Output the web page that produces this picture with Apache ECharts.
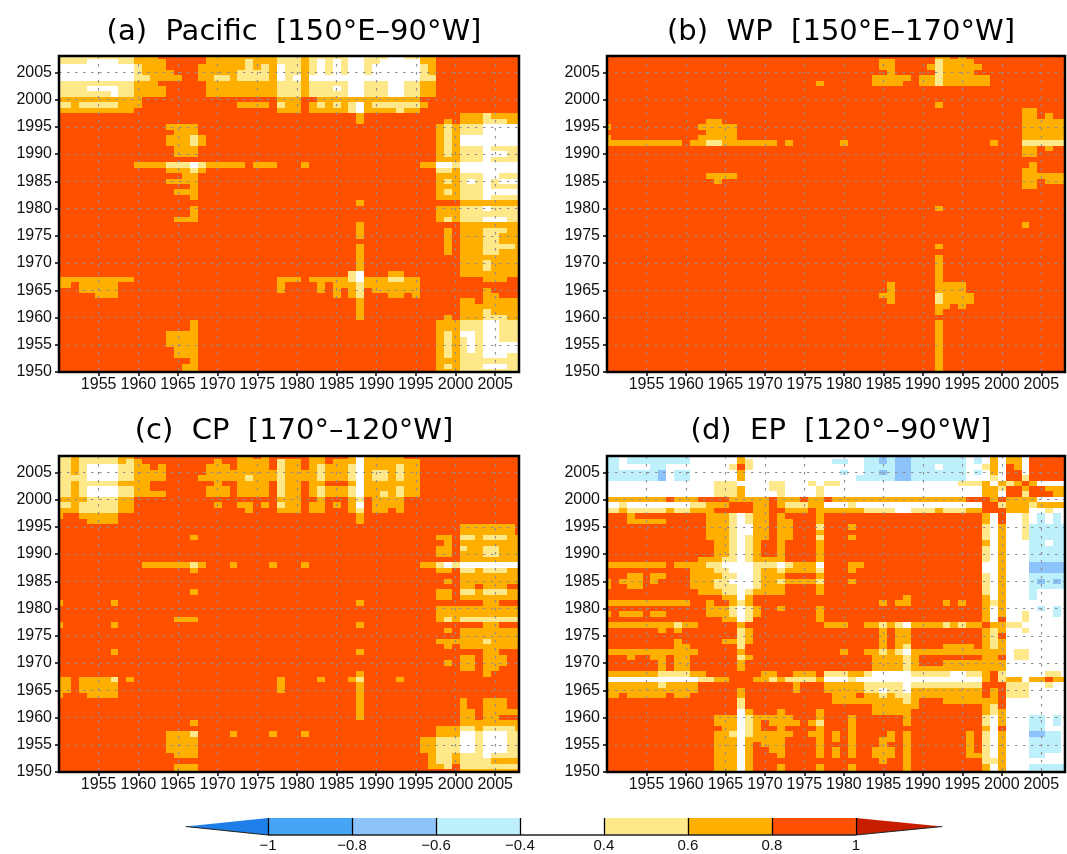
<!DOCTYPE html>
<html><head><meta charset="utf-8">
<style>html,body{margin:0;padding:0;background:#fff}#c{width:1067px;height:854px}</style>
<script src="https://cdn.jsdelivr.net/npm/echarts@6/dist/echarts.min.js"></script>
</head><body><div id="c"></div>
<script>
const titles = ['(a)  Pacific  [150°E–90°W]', '(b)  WP  [150°E–170°W]', '(c)  CP  [170°–120°W]', '(d)  EP  [120°–90°W]'];
const xTickYears = [1955,1960,1965,1970,1975,1980,1985,1990,1995,2000,2005];
const yTickYears = [1950,1955,1960,1965,1970,1975,1980,1985,1990,1995,2000,2005];
const barLevels = [-1,-0.8,-0.6,-0.4,0.4,0.6,0.8,1];
const barLabels = ['−1','−0.8','−0.6','−0.4','0.4','0.6','0.8','1'];
const barColors = ['#1f7fe8','#46a5f5','#8cc3fa','#bdf0fb','#ffffff','#fee88a','#ffaf00','#ff5000','#c81e00'];
const classValues = {M:-0.7, L:-0.5, W:0, Y:0.5, O:0.7, R:0.9};
// Each region: [year from, year to, lag-year from, lag-year to, class]; later regions overlay earlier ones.
const regionsA = [
[1950,1959,2001,2008,'Y'],[1954,1957,2007,2007,'W'],[1952,1959,2004,2006,'W'],[1950,1951,2004,2006,'W'],[1954,1957,2002,2002,'W'],[1957,1957,2001,2001,'W'],
[1960,1962,2008,2008,'O'],[1960,1963,2006,2007,'O'],[1960,1964,2005,2005,'O'],[1960,1965,2004,2004,'O'],[1960,1962,2003,2003,'O'],[1960,1963,2001,2002,'O'],[1960,1961,2004,2004,'Y'],[1960,1960,2005,2006,'Y'],
[1969,1977,2001,2008,'O'],[1968,1968,2004,2006,'O'],[1974,1974,2006,2007,'Y'],[1973,1976,2004,2005,'Y'],[1976,1976,2006,2006,'Y'],[1970,1971,2004,2004,'Y'],
[1978,1980,2001,2008,'Y'],[1978,1978,2004,2006,'W'],[1980,1980,2004,2004,'W'],[1981,1981,2001,2008,'O'],
[1982,1995,2001,2008,'Y'],[1982,1995,2004,2004,'W'],[1983,1983,2005,2007,'W'],[1985,1985,2005,2007,'W'],[1985,1985,2002,2002,'W'],[1987,1988,2001,2008,'W'],[1990,1995,2005,2006,'W'],[1991,1995,2007,2007,'W'],[1992,1993,2008,2008,'W'],[1992,1993,2001,2003,'W'],
[1996,1997,2001,2008,'O'],[1996,1996,2005,2006,'Y'],[1996,1997,2004,2004,'Y'],
[1950,1959,1998,2000,'O'],[1960,1960,1999,2000,'O'],[1950,1951,1999,1999,'Y'],[1953,1957,1999,1999,'Y'],[1973,1976,1999,1999,'O'],
[1978,1980,1998,2000,'O'],[1978,1978,1999,1999,'Y'],[1982,1995,1998,1999,'O'],[1983,1995,2000,2000,'O'],[1996,1996,1999,1999,'O'],[1983,1983,1999,1999,'Y'],[1985,1985,1999,1999,'Y'],[1987,1987,1998,1999,'Y'],[1988,1988,1998,1999,'W'],[1990,1995,1999,1999,'Y'],[1993,1993,1998,1998,'Y'],[1988,1988,1996,1997,'O'],
[1964,1967,1995,1995,'O'],[1965,1967,1994,1994,'O'],[1964,1968,1992,1993,'O'],[1967,1967,1992,1993,'Y'],[1965,1967,1990,1991,'O'],
[1960,1973,1988,1988,'O'],[1964,1968,1988,1988,'Y'],[1967,1967,1988,1988,'W'],[1975,1977,1988,1988,'O'],[1981,1981,1988,1988,'O'],[1964,1968,1987,1987,'O'],[1967,1967,1987,1987,'Y'],[1966,1967,1986,1986,'O'],[1964,1967,1985,1985,'O'],[1967,1967,1984,1984,'O'],[1965,1967,1983,1983,'O'],[1967,1967,1982,1982,'O'],[1967,1967,1979,1980,'O'],[1965,1967,1978,1978,'O'],
[1988,1988,1981,1981,'O'],[1988,1988,1975,1977,'O'],[1988,1988,1960,1973,'O'],
[1950,1959,1967,1967,'O'],[1950,1951,1966,1966,'O'],[1953,1957,1965,1966,'O'],[1955,1957,1964,1964,'O'],[1978,1980,1967,1967,'O'],[1978,1978,1965,1966,'O'],[1982,1995,1967,1967,'O'],[1983,1983,1965,1966,'O'],[1985,1995,1966,1966,'O'],[1985,1985,1964,1965,'O'],[1987,1988,1964,1965,'O'],[1990,1995,1965,1965,'O'],[1992,1993,1964,1964,'O'],[1995,1995,1964,1964,'O'],[1992,1993,1968,1968,'O'],[1992,1993,1967,1967,'Y'],
[1987,1988,1967,1968,'Y'],[1988,1988,1967,1968,'W'],[1988,1988,1964,1966,'Y'],
[1967,1967,1958,1959,'O'],[1964,1967,1955,1957,'O'],[1965,1967,1953,1954,'O'],[1967,1967,1952,1952,'O'],[1966,1967,1950,1951,'O'],
[2001,2008,1996,1997,'O'],[2004,2004,1996,1997,'Y'],[2005,2006,1996,1996,'Y'],[1999,1999,1996,1996,'O'],
[1998,2000,1989,1995,'O'],[1999,1999,1990,1995,'Y'],[2001,2008,1989,1995,'Y'],[2004,2008,1994,1995,'W'],[2001,2008,1992,1993,'W'],[2004,2004,1989,1991,'W'],[2005,2006,1990,1990,'W'],
[1996,1997,1988,1988,'O'],[1998,1999,1988,1988,'W'],[2000,2000,1988,1988,'Y'],[2001,2008,1987,1988,'W'],[1998,1999,1987,1987,'Y'],[2000,2000,1987,1987,'O'],
[1998,2000,1982,1986,'O'],[1999,1999,1985,1985,'Y'],[1999,1999,1983,1983,'Y'],[2001,2008,1982,1986,'Y'],[2004,2005,1986,1986,'W'],[2002,2002,1985,1985,'W'],[2004,2004,1982,1985,'W'],[2006,2008,1985,1985,'W'],[2005,2008,1983,1983,'W'],
[2001,2008,1981,1981,'O'],[1998,2000,1978,1980,'O'],[1999,1999,1978,1978,'Y'],[2001,2008,1978,1980,'Y'],[2004,2004,1980,1980,'W'],[2004,2006,1978,1978,'W'],
[2001,2008,1968,1977,'O'],[2004,2006,1967,1967,'O'],[2004,2006,1976,1976,'Y'],[2004,2005,1974,1975,'Y'],[2004,2007,1973,1973,'Y'],[2004,2005,1972,1972,'Y'],[2004,2004,1969,1970,'Y'],[1999,1999,1972,1976,'O'],
[2001,2008,1960,1963,'O'],[2003,2003,1963,1963,'R'],[2004,2004,1964,1965,'O'],[2005,2005,1964,1964,'O'],[2004,2004,1961,1961,'Y'],[2004,2006,1960,1960,'Y'],
[2001,2008,1950,1959,'Y'],[2004,2005,1953,1959,'W'],[2006,2008,1954,1955,'W'],[2006,2006,1953,1953,'W'],[2001,2002,1957,1957,'W'],[2002,2002,1954,1956,'W'],[2004,2006,1951,1951,'W'],
[1998,2000,1950,1959,'O'],[1999,1999,1960,1960,'O'],[1999,1999,1953,1957,'Y'],[1999,1999,1951,1951,'Y']
];
const regionsB = [
[1950,1959,1992,1992,'O'],[1961,1971,1992,1992,'O'],[1973,1973,1992,1992,'O'],[1980,1980,1992,1992,'O'],[1999,1999,1992,1992,'O'],
[1963,1964,1996,1996,'O'],[1962,1966,1995,1995,'O'],[1963,1966,1994,1994,'O'],[1962,1966,1993,1993,'O'],[1963,1964,1992,1992,'Y'],[1950,1950,1995,1995,'O'],[1950,1950,1993,1993,'O'],
[1963,1966,1986,1986,'O'],[1964,1964,1985,1985,'O'],
[1992,1992,1999,1999,'O'],[1992,1992,1980,1980,'O'],[1992,1992,1973,1973,'O'],[1992,1992,1961,1971,'O'],[1992,1992,1950,1959,'O'],[1992,1992,1963,1964,'Y'],
[1993,1995,1965,1966,'O'],[1993,1996,1963,1964,'O'],[1993,1993,1962,1962,'O'],[1995,1995,1962,1962,'O'],[1986,1986,1963,1966,'O'],[1985,1985,1964,1964,'O'],
[1985,1986,2006,2007,'O'],[1986,1986,2005,2005,'O'],[1984,1988,2004,2004,'O'],[1984,1987,2003,2003,'O'],[1977,1977,2003,2003,'O'],
[1992,1993,2008,2008,'O'],[1995,1995,2008,2008,'O'],[1993,1996,2007,2007,'O'],[1991,1991,2006,2006,'O'],[1993,1997,2006,2006,'O'],[1993,1996,2005,2005,'O'],[1990,1991,2003,2004,'O'],[1993,1998,2003,2004,'O'],[1992,1992,2003,2007,'Y'],
[2003,2004,1990,1998,'O'],[2005,2005,1993,1996,'O'],[2006,2006,1993,1997,'O'],[2007,2008,1993,1996,'O'],[2003,2008,1992,1992,'Y'],[2006,2006,1991,1991,'O'],
[2003,2004,1984,1987,'O'],[2004,2004,1988,1988,'O'],[2005,2008,1986,1986,'O'],[2006,2008,1985,1985,'O'],[2003,2003,1977,1977,'O']
];
const regionsC = [
[1950,1951,2001,2008,'Y'],[1952,1952,2001,2008,'O'],[1950,1952,2004,2004,'Y'],[1953,1957,2001,2008,'Y'],[1954,1957,2004,2006,'W'],[1954,1957,2001,2002,'W'],
[1958,1959,2007,2008,'O'],[1958,1958,2001,2006,'Y'],[1959,1959,2001,2007,'Y'],[1958,1959,2003,2003,'O'],
[1950,1951,2000,2000,'O'],[1950,1951,1999,1999,'Y'],[1950,1951,1998,1998,'O'],[1950,1950,1997,1997,'O'],[1952,1952,1998,2000,'O'],[1953,1957,1998,2000,'Y'],[1953,1953,2000,2000,'O'],[1953,1957,1997,1997,'O'],[1954,1957,1996,1996,'O'],[1958,1959,1998,2000,'O'],
[1960,1960,2001,2007,'O'],[1961,1961,2003,2006,'O'],[1962,1962,2004,2005,'O'],[1963,1963,2004,2006,'O'],[1961,1963,2001,2001,'O'],[1961,1961,2002,2002,'O'],
[1969,1971,2005,2006,'O'],[1970,1970,2007,2007,'O'],[1968,1977,2004,2004,'O'],[1972,1972,2005,2005,'O'],[1970,1970,2003,2003,'O'],[1969,1971,2001,2002,'O'],[1973,1976,2001,2008,'O'],[1975,1975,2008,2008,'R'],[1974,1974,2004,2004,'Y'],
[1973,1974,1999,1999,'O'],[1974,1974,1998,1998,'O'],[1976,1976,1999,1999,'O'],[1970,1970,1999,1999,'O'],[1977,1977,2005,2005,'O'],
[1978,1980,1998,2007,'O'],[1978,1978,2001,2007,'Y'],[1978,1978,1999,1999,'Y'],[1981,1981,2004,2005,'O'],
[1982,1983,2001,2008,'O'],[1983,1983,2004,2006,'Y'],[1983,1983,2001,2002,'Y'],[1984,1984,2004,2006,'O'],[1984,1984,2001,2002,'O'],[1985,1986,2001,2007,'O'],[1985,1986,2003,2003,'R'],[1987,1987,2001,2008,'O'],[1987,1987,2004,2006,'Y'],[1987,1987,2001,2002,'Y'],
[1988,1988,2001,2008,'W'],[1988,1988,2000,2000,'Y'],[1988,1988,1999,1999,'W'],[1988,1988,1998,1998,'Y'],[1988,1988,1996,1997,'O'],
[1989,1993,2001,2008,'O'],[1994,1995,2001,2007,'O'],[1990,1991,2004,2005,'Y'],[1993,1993,2004,2006,'Y'],[1993,1993,2001,2002,'Y'],[1991,1991,2001,2001,'Y'],
[1982,1983,1998,1999,'O'],[1983,1983,2000,2000,'O'],[1985,1985,1999,1999,'O'],[1987,1987,1998,2000,'O'],[1990,1991,1998,1999,'O'],[1992,1992,1999,1999,'O'],[1993,1993,1998,1999,'O'],[1990,1993,2000,2000,'O'],
[1967,1967,1993,1993,'O'],[1961,1968,1988,1988,'O'],[1967,1967,1988,1988,'Y'],[1972,1972,1988,1988,'O'],[1977,1977,1988,1988,'O'],[1981,1981,1988,1988,'O'],[1967,1967,1987,1987,'O'],[1967,1967,1983,1983,'O'],
[1957,1957,1981,1981,'O'],[1957,1957,1977,1977,'O'],[1957,1957,1972,1972,'O'],[1988,1988,1981,1981,'O'],[1988,1988,1977,1977,'O'],[1988,1988,1972,1972,'O'],[1950,1950,1981,1981,'O'],[1950,1950,1977,1977,'O'],[1965,1967,1978,1978,'O'],
[1950,1951,1965,1967,'O'],[1953,1957,1965,1967,'O'],[1954,1957,1964,1964,'O'],[1957,1957,1967,1967,'Y'],[1959,1959,1967,1967,'O'],[1978,1978,1965,1967,'O'],[1983,1983,1967,1967,'O'],[1987,1987,1967,1967,'O'],[1993,1993,1967,1967,'O'],[1988,1988,1960,1968,'O'],[1988,1988,1967,1967,'Y'],[1950,1950,1964,1964,'O'],
[1967,1967,1959,1959,'O'],[1964,1967,1954,1957,'O'],[1967,1967,1957,1957,'Y'],[1965,1967,1953,1953,'O'],[1965,1967,1951,1951,'O'],[1965,1967,1950,1950,'O'],[1972,1972,1957,1957,'O'],[1977,1977,1957,1957,'O'],[1981,1981,1957,1957,'O'],
[2001,2007,1994,1995,'O'],[1998,1999,1993,1993,'O'],[2001,2008,1993,1993,'O'],[2001,2002,1993,1993,'Y'],[2004,2006,1993,1993,'Y'],[1999,1999,1992,1992,'O'],[2001,2008,1992,1992,'O'],[1998,1999,1990,1991,'O'],[2001,2008,1989,1991,'O'],[2001,2001,1991,1991,'Y'],[2004,2005,1990,1991,'Y'],
[1996,1997,1988,1988,'O'],[1998,1998,1988,1988,'Y'],[1999,1999,1988,1988,'W'],[2000,2000,1988,1988,'Y'],[2001,2008,1988,1988,'W'],
[1998,1999,1987,1987,'O'],[2001,2008,1987,1987,'O'],[2001,2002,1987,1987,'Y'],[2004,2006,1987,1987,'Y'],[2001,2008,1986,1986,'O'],[1999,1999,1985,1985,'O'],[2001,2008,1985,1985,'O'],[2001,2002,1984,1984,'O'],[2004,2006,1984,1984,'O'],
[1998,1999,1982,1983,'O'],[2001,2008,1982,1983,'O'],[2001,2002,1983,1983,'Y'],[2004,2006,1983,1983,'Y'],[2004,2005,1981,1981,'O'],[1998,2008,1979,1980,'O'],[1998,2000,1978,1978,'O'],[1999,1999,1978,1978,'Y'],[2001,2008,1978,1978,'Y'],[2004,2005,1977,1977,'O'],
[1999,1999,1976,1976,'O'],[2001,2008,1975,1976,'O'],[1998,2008,1974,1974,'O'],[2004,2004,1974,1974,'Y'],[1999,1999,1973,1973,'O'],[2001,2008,1973,1973,'O'],[2004,2005,1972,1972,'O'],[2001,2002,1969,1971,'O'],[2004,2006,1970,1971,'O'],[1999,1999,1970,1970,'O'],[2004,2005,1969,1969,'O'],[2004,2004,1968,1968,'O'],
[2001,2001,1962,1963,'O'],[2004,2006,1962,1963,'O'],[2001,2002,1960,1961,'O'],[2004,2005,1960,1961,'O'],[2004,2008,1961,1961,'O'],[2001,2008,1959,1959,'O'],[1998,2008,1957,1958,'O'],[2001,2002,1958,1958,'Y'],[2004,2007,1958,1958,'Y'],[2001,2008,1957,1957,'Y'],
[1996,1997,1954,1956,'O'],[1997,1997,1952,1953,'O'],[1997,1998,1951,1951,'O'],[1998,2000,1953,1956,'Y'],[2001,2008,1953,1956,'Y'],[2001,2002,1954,1957,'W'],[2004,2006,1954,1957,'W'],[2004,2004,1953,1953,'W'],
[2000,2000,1952,1953,'O'],[1998,1999,1952,1952,'Y'],[2001,2004,1952,1952,'Y'],[2005,2008,1952,1952,'O'],[2000,2000,1951,1951,'R'],[1999,1999,1951,1951,'Y'],[2001,2008,1951,1951,'Y'],[2001,2008,1950,1950,'O']
];
const regionsD = [
[1950,2008,2001,2008,'W'],[2001,2008,1950,1997,'W'],[1999,1999,1950,1997,'W'],
[1950,1951,2004,2008,'L'],[1953,1957,2007,2008,'L'],[1956,1957,2006,2006,'L'],[1952,1957,2004,2005,'L'],[1958,1960,2007,2008,'L'],[1959,1960,2004,2005,'L'],[1957,1957,2004,2005,'M'],
[1966,1966,2006,2006,'Y'],[1967,1967,2004,2008,'O'],[1967,1967,2006,2006,'R'],[1968,1968,2006,2007,'Y'],[1964,1966,2001,2003,'Y'],[1967,1967,2001,2002,'O'],[1971,1972,2002,2003,'Y'],[1972,1972,2001,2001,'Y'],[1976,1976,2003,2003,'Y'],[1977,1977,2001,2002,'Y'],[1978,1979,2003,2003,'Y'],
[1979,1980,2007,2007,'L'],[1980,1980,2005,2005,'L'],[1983,1995,2004,2008,'L'],[1982,1982,2004,2004,'L'],[1985,1985,2007,2008,'M'],[1985,1985,2005,2005,'M'],[1987,1988,2004,2008,'M'],[1992,1992,2006,2006,'W'],[1997,1997,2007,2008,'L'],[1997,1997,2005,2005,'L'],
[1995,1997,2003,2003,'Y'],[1998,1998,2006,2006,'Y'],[1999,1999,2005,2008,'O'],[1999,1999,2004,2004,'Y'],[2001,2002,2007,2008,'O'],[2002,2002,2006,2006,'O'],[2001,2001,2005,2006,'R'],[2001,2002,2004,2005,'R'],[2003,2003,2004,2004,'Y'],[2004,2008,2004,2008,'R'],
[1998,1998,2003,2003,'O'],[2000,2000,2003,2003,'O'],[2001,2001,2003,2003,'Y'],[2002,2002,2003,2003,'O'],[2003,2003,2003,2003,'R'],[2004,2004,2003,2003,'O'],
[1998,1999,2002,2002,'O'],[2000,2000,2002,2002,'Y'],[2001,2002,2002,2002,'R'],[2003,2003,2002,2002,'O'],[2004,2005,2002,2002,'R'],[2006,2008,2002,2002,'O'],
[1998,1999,2001,2001,'O'],[2001,2002,2001,2001,'R'],[2003,2003,2001,2001,'Y'],[2004,2006,2001,2001,'R'],[2007,2008,2001,2001,'O'],
[1950,1995,2000,2000,'O'],[1958,1958,2000,2000,'R'],[1962,1965,2000,2000,'R'],[1971,1971,2000,2000,'R'],[1975,1975,2000,2000,'R'],[1978,1978,2000,2000,'R'],[1996,1998,2000,2000,'R'],[1999,1999,2000,2000,'O'],[2000,2000,2000,2000,'R'],[2001,2004,2000,2000,'O'],[2005,2008,2000,2000,'W'],
[1950,1951,1999,1999,'W'],[1952,1952,1999,1999,'Y'],[1953,1960,1999,1999,'W'],[1961,1962,1999,1999,'Y'],[1963,1965,1999,1999,'O'],[1966,1968,1999,1999,'R'],[1969,1970,1999,1999,'O'],[1971,1971,1999,1999,'R'],[1972,1972,1999,1999,'O'],[1973,1975,1999,1999,'Y'],[1976,1977,1999,1999,'O'],[1978,1980,1999,1999,'W'],[1981,1981,1999,1999,'Y'],[1982,1997,1999,1999,'W'],[1998,1999,1999,1999,'R'],[2000,2000,1999,1999,'Y'],[2001,2003,1999,1999,'O'],[2004,2004,1999,1999,'Y'],[2005,2008,1999,1999,'O'],
[1950,1951,1998,1998,'Y'],[1952,1952,1998,1998,'O'],[1953,1957,1998,1998,'Y'],[1958,1958,1998,1998,'O'],[1959,1960,1998,1998,'Y'],[1961,1963,1998,1998,'O'],[1964,1968,1998,1998,'R'],[1969,1970,1998,1998,'O'],[1971,1972,1998,1998,'R'],[1973,1975,1998,1998,'O'],[1976,1976,1998,1998,'R'],[1977,1982,1998,1998,'O'],[1983,1986,1998,1998,'Y'],[1987,1988,1998,1998,'W'],[1989,1991,1998,1998,'Y'],[1992,1992,1998,1998,'O'],[1993,1995,1998,1998,'Y'],[1996,1997,1998,1998,'O'],[1998,2000,1998,1998,'R'],[2001,2003,1998,1998,'O'],[2004,2008,1998,1998,'W'],[2006,2006,1998,1998,'Y'],
[1953,1953,1997,1997,'O'],[1953,1957,1996,1996,'O'],
[1963,1965,1993,1997,'O'],[1964,1965,1990,1992,'O'],[1966,1966,1990,1997,'Y'],[1967,1967,1990,1997,'W'],[1968,1968,1990,1997,'Y'],[1968,1968,1994,1995,'W'],[1969,1969,1990,1997,'O'],[1970,1970,1993,1997,'O'],[1972,1972,1990,1997,'O'],[1973,1973,1993,1996,'O'],
[1977,1977,1983,1997,'O'],[1977,1977,1995,1995,'Y'],[1977,1977,1993,1993,'Y'],[1977,1977,1988,1988,'W'],[1977,1977,1987,1987,'Y'],[1977,1977,1985,1985,'Y'],
[1962,1964,1989,1989,'O'],[1965,1966,1989,1989,'Y'],[1967,1967,1989,1989,'W'],[1968,1968,1989,1989,'Y'],[1969,1972,1989,1989,'O'],
[1950,1957,1988,1988,'O'],[1959,1962,1988,1988,'O'],[1963,1964,1988,1988,'Y'],[1965,1968,1988,1988,'W'],[1969,1971,1988,1988,'Y'],[1972,1972,1988,1988,'W'],[1973,1973,1988,1988,'Y'],[1974,1976,1988,1988,'O'],
[1961,1963,1987,1987,'O'],[1964,1965,1987,1987,'Y'],[1966,1968,1987,1987,'W'],[1969,1969,1987,1987,'Y'],[1970,1971,1987,1987,'O'],[1972,1972,1987,1987,'Y'],[1973,1976,1987,1987,'O'],
[1961,1964,1986,1986,'O'],[1965,1966,1986,1986,'Y'],[1967,1968,1986,1986,'W'],[1969,1969,1986,1986,'Y'],[1970,1972,1986,1986,'O'],
[1953,1954,1984,1986,'O'],[1956,1957,1986,1986,'O'],[1956,1956,1985,1985,'O'],[1952,1952,1985,1985,'O'],[1950,1950,1984,1985,'O'],
[1961,1963,1985,1985,'O'],[1964,1965,1985,1985,'Y'],[1966,1968,1985,1985,'W'],[1969,1969,1985,1985,'Y'],[1970,1971,1985,1985,'O'],[1972,1972,1985,1985,'Y'],[1973,1976,1985,1985,'O'],
[1961,1963,1984,1984,'O'],[1964,1966,1984,1984,'Y'],[1967,1968,1984,1984,'W'],[1969,1969,1984,1984,'Y'],[1970,1972,1984,1984,'O'],
[1962,1964,1983,1983,'O'],[1965,1966,1983,1983,'Y'],[1967,1967,1983,1983,'W'],[1968,1968,1983,1983,'Y'],[1969,1971,1983,1983,'O'],[1972,1972,1983,1983,'O'],
[1965,1966,1982,1982,'O'],[1967,1967,1982,1982,'W'],[1968,1968,1982,1982,'O'],
[1950,1951,1981,1981,'O'],[1952,1960,1981,1981,'O'],[1963,1963,1981,1981,'O'],[1966,1966,1981,1981,'O'],[1967,1967,1981,1981,'Y'],[1968,1968,1981,1981,'O'],
[1963,1965,1979,1980,'O'],[1966,1966,1979,1980,'Y'],[1967,1967,1978,1980,'W'],[1968,1968,1978,1980,'Y'],[1969,1969,1979,1980,'O'],[1965,1966,1978,1978,'O'],[1972,1972,1980,1980,'O'],[1977,1977,1978,1980,'O'],[1952,1954,1979,1979,'O'],[1956,1957,1979,1979,'O'],[1950,1950,1979,1979,'O'],
[1950,1951,1977,1977,'O'],[1952,1961,1977,1977,'O'],[1959,1959,1977,1977,'Y'],[1957,1957,1976,1976,'O'],[1959,1959,1976,1976,'O'],
[1967,1967,1977,1977,'O'],[1967,1967,1973,1976,'Y'],[1968,1968,1974,1976,'O'],[1965,1966,1974,1974,'O'],[1967,1967,1972,1972,'O'],[1967,1967,1971,1971,'Y'],[1968,1968,1971,1971,'O'],[1967,1967,1969,1970,'O'],
[1959,1959,1973,1974,'O'],[1960,1960,1973,1973,'O'],[1950,1951,1972,1972,'O'],[1952,1961,1972,1972,'O'],[1953,1953,1971,1971,'O'],[1956,1957,1971,1971,'O'],[1959,1960,1971,1971,'O'],[1957,1957,1969,1970,'O'],[1959,1960,1969,1970,'O'],
[1950,1956,1968,1968,'O'],[1957,1960,1968,1968,'Y'],[1961,1962,1968,1968,'O'],
[1950,1961,1967,1967,'W'],[1962,1963,1967,1967,'Y'],[1964,1965,1967,1967,'O'],[1969,1970,1967,1967,'O'],[1971,1971,1967,1967,'Y'],[1972,1972,1967,1967,'O'],[1973,1976,1967,1967,'Y'],[1977,1977,1967,1967,'O'],[1970,1971,1968,1968,'O'],[1974,1976,1968,1968,'O'],
[1950,1961,1966,1966,'O'],[1957,1957,1966,1966,'Y'],[1950,1961,1965,1965,'O'],[1950,1951,1964,1964,'O'],[1953,1957,1964,1964,'O'],[1959,1960,1964,1964,'O'],[1974,1974,1965,1966,'O'],
[1967,1967,1964,1965,'O'],[1967,1967,1962,1963,'Y'],[1967,1967,1950,1961,'W'],[1968,1968,1961,1961,'O'],[1968,1968,1957,1960,'Y'],[1968,1968,1950,1956,'O'],
[1972,1972,1961,1961,'O'],[1977,1977,1960,1961,'O'],[1964,1966,1960,1960,'O'],[1969,1973,1960,1960,'O'],[1965,1966,1959,1959,'O'],[1964,1964,1959,1959,'O'],[1969,1969,1959,1959,'O'],[1971,1974,1959,1959,'O'],[1976,1976,1959,1959,'O'],[1977,1977,1959,1959,'Y'],
[1965,1966,1958,1958,'O'],[1969,1969,1958,1958,'O'],[1972,1972,1958,1958,'O'],[1977,1977,1958,1958,'O'],
[1964,1965,1957,1957,'O'],[1966,1966,1957,1957,'Y'],[1969,1973,1957,1957,'O'],[1976,1977,1957,1957,'O'],
[1964,1966,1956,1956,'O'],[1969,1972,1956,1956,'O'],[1977,1977,1956,1956,'O'],[1964,1966,1955,1955,'O'],[1970,1972,1955,1955,'O'],[1977,1977,1955,1955,'O'],
[1964,1966,1952,1954,'O'],[1971,1972,1954,1954,'O'],[1977,1977,1953,1954,'O'],[1972,1972,1953,1953,'O'],[1964,1966,1950,1951,'O'],[1972,1972,1950,1951,'O'],[1977,1977,1950,1951,'O'],
[1979,1979,1956,1957,'O'],[1979,1979,1953,1954,'O'],[1981,1981,1953,1960,'O'],[1981,1981,1950,1951,'O'],[1986,1986,1957,1957,'O'],[1985,1986,1956,1956,'O'],[1985,1985,1955,1955,'O'],[1984,1986,1953,1954,'O'],[1985,1985,1952,1952,'O'],[1988,1988,1950,1957,'O'],[1996,1996,1954,1957,'O'],[1996,1997,1953,1953,'O'],
[1981,1981,1995,1995,'O'],[1981,1981,1993,1993,'O'],[1981,1982,1988,1988,'O'],[1981,1981,1987,1987,'O'],[1981,1981,1985,1985,'O'],[1985,1985,1981,1981,'O'],[1987,1988,1981,1981,'O'],[1988,1988,1982,1982,'O'],[1993,1993,1981,1981,'O'],[1995,1995,1981,1981,'O'],
[1978,1980,1977,1977,'O'],[1983,1997,1977,1977,'O'],[1985,1985,1977,1977,'Y'],[1987,1987,1977,1977,'Y'],[1988,1988,1977,1977,'W'],[1993,1993,1977,1977,'Y'],[1995,1995,1977,1977,'Y'],
[1985,1985,1973,1976,'O'],[1987,1988,1973,1976,'O'],[1988,1988,1973,1973,'Y'],[1993,1996,1973,1973,'O'],
[1980,1980,1972,1972,'O'],[1983,1997,1972,1972,'O'],[1985,1985,1972,1972,'Y'],[1987,1987,1972,1972,'Y'],[1988,1988,1972,1972,'W'],
[1984,1987,1970,1971,'O'],[1988,1988,1970,1971,'Y'],[1989,1989,1970,1971,'O'],[1993,1997,1970,1970,'O'],[1984,1988,1969,1969,'O'],[1988,1988,1969,1969,'Y'],[1989,1997,1969,1969,'O'],
[1978,1980,1968,1968,'Y'],[1981,1982,1968,1968,'O'],[1983,1997,1968,1968,'Y'],[1984,1988,1968,1968,'W'],[1994,1995,1968,1968,'W'],
[1978,1980,1967,1967,'W'],[1981,1981,1967,1967,'Y'],[1982,1997,1967,1967,'W'],
[1978,1982,1966,1966,'O'],[1983,1997,1966,1966,'Y'],[1988,1988,1966,1966,'W'],[1978,1982,1965,1965,'O'],[1983,1984,1965,1965,'Y'],[1985,1985,1965,1965,'W'],[1986,1987,1965,1965,'Y'],[1988,1988,1965,1965,'W'],[1989,1997,1965,1965,'O'],
[1979,1981,1964,1964,'O'],[1983,1984,1964,1964,'O'],[1985,1985,1964,1964,'Y'],[1986,1986,1964,1964,'O'],[1987,1988,1964,1964,'Y'],[1989,1997,1964,1964,'O'],
[1979,1982,1963,1963,'O'],[1983,1987,1963,1963,'O'],[1988,1988,1963,1963,'Y'],[1989,1989,1963,1963,'O'],[1993,1997,1963,1963,'O'],[1984,1989,1962,1962,'O'],[1984,1988,1961,1961,'O'],[1988,1988,1959,1960,'O'],
[1998,1998,1996,1997,'O'],[1998,1998,1993,1995,'Y'],[1998,1998,1992,1992,'O'],[1998,1998,1989,1991,'Y'],[1998,1998,1987,1988,'W'],[1998,1998,1983,1986,'Y'],[1998,1998,1978,1982,'O'],[1998,1998,1977,1977,'R'],[1998,1998,1967,1976,'O'],[1998,1998,1964,1966,'R'],[1998,1998,1961,1963,'O'],[1998,1998,1959,1960,'Y'],[1998,1998,1958,1958,'O'],[1998,1998,1952,1957,'Y'],[1998,1998,1950,1951,'O'],
[1999,1999,1981,1981,'Y'],[1999,1999,1977,1977,'O'],[1999,1999,1973,1976,'Y'],[1999,1999,1969,1972,'O'],[1999,1999,1966,1968,'R'],[1999,1999,1963,1965,'O'],[1999,1999,1961,1962,'Y'],[1999,1999,1952,1952,'Y'],
[2000,2000,1996,1997,'R'],[2000,2000,1979,1995,'O'],[2000,2000,1978,1978,'R'],[2000,2000,1976,1977,'O'],[2000,2000,1975,1975,'R'],[2000,2000,1972,1974,'O'],[2000,2000,1971,1971,'R'],[2000,2000,1969,1970,'O'],[2000,2000,1967,1968,'Y'],[2000,2000,1962,1966,'R'],[2000,2000,1959,1961,'O'],[2000,2000,1958,1958,'R'],[2000,2000,1950,1957,'O'],
[2003,2003,1993,1997,'Y'],[2004,2008,1982,1995,'L'],[2005,2005,1996,1997,'L'],[2007,2007,1996,1997,'L'],[2005,2008,1982,1983,'W'],[2004,2008,1987,1988,'M'],[2005,2005,1985,1985,'M'],[2007,2007,1985,1985,'M'],[2006,2006,1992,1992,'W'],[2005,2005,1980,1980,'L'],[2007,2007,1979,1980,'L'],
[2001,2002,1977,1977,'Y'],[2003,2003,1978,1979,'Y'],[2003,2003,1976,1976,'Y'],[2002,2003,1971,1972,'Y'],[2001,2002,1967,1967,'O'],[2004,2005,1967,1967,'O'],[2006,2006,1967,1967,'R'],[2007,2008,1967,1967,'O'],[2006,2007,1968,1968,'Y'],[2006,2006,1966,1966,'Y'],[2001,2003,1964,1966,'Y'],
[2004,2005,1953,1960,'L'],[2004,2005,1957,1957,'M'],[2007,2007,1959,1960,'L'],[2006,2007,1954,1957,'L'],[2004,2008,1950,1951,'L']
];

const gridYears = [];
for (let i = 1950; i <= 2008; i++) gridYears.push(i);

function buildCells(regions) {
  const cells = new Map();
  regions.forEach(function (r) {
    for (let x = r[0]; x <= r[1]; x++) for (let y = r[2]; y <= r[3]; y++) cells.set(x + '_' + y, classValues[r[4]]);
  });
  const out = [];
  gridYears.forEach(function (x) {
    gridYears.forEach(function (y) {
      const key = x + '_' + y;
      out.push([x, y, cells.has(key) ? cells.get(key) : classValues.R]);
    });
  });
  return out;
}
function colorOf(v) {
  if (v < barLevels[0]) return barColors[0];
  for (let i = 1; i < barLevels.length; i++) if (v < barLevels[i]) return barColors[i];
  return barColors[barColors.length - 1];
}
function renderCell(params, api) {
  const x = api.value(0), y = api.value(1), v = api.value(2);
  const a = api.coord([x - 0.5, y + 0.5]), b = api.coord([x + 0.5, y - 0.5]);
  const left = Math.round(a[0]), top = Math.round(a[1]);
  const shape = echarts.graphic.clipRectByRect(
    {x: left, y: top, width: Math.round(b[0]) - left, height: Math.round(b[1]) - top},
    {x: params.coordSys.x, y: params.coordSys.y, width: params.coordSys.width, height: params.coordSys.height});
  if (!shape) return;
  return {type: 'rect', shape: shape, style: {fill: colorOf(v)}};
}

const layouts = [
  {left: 59, top: 56, width: 460, height: 316, cx: 289, ty: 13},
  {left: 607, top: 56, width: 458, height: 316, cx: 836, ty: 13},
  {left: 59, top: 456, width: 460, height: 316, cx: 289, ty: 412},
  {left: 607, top: 456, width: 458, height: 316, cx: 836, ty: 412}
];
const allRegions = [regionsA, regionsB, regionsC, regionsD];
const grid = [], xAxis = [], yAxis = [], series = [], title = [];
const labelStyle = {fontFamily: 'Liberation Sans', fontSize: 16, color: '#111'};
layouts.forEach(function (g, i) {
  grid.push({left: g.left, top: g.top, width: g.width, height: g.height, show: true, z: 10, backgroundColor: 'transparent', borderColor: '#000', borderWidth: 2.5});
  const split = {show: true, lineStyle: {color: '#8f8f8f', width: 1.2, type: [2.5, 5.5]}};
  xAxis.push({type: 'value', gridIndex: i, min: 1950, max: 2008, interval: 5, z: 5, axisLine: {show: false},
    axisTick: {show: true, length: 4, customValues: xTickYears, lineStyle: {color: '#000', width: 1.5}},
    axisLabel: Object.assign({margin: 5, customValues: xTickYears, formatter: function (v) { return String(v); }}, labelStyle), splitLine: split});
  yAxis.push({type: 'value', gridIndex: i, min: 1950, max: 2008, interval: 5, z: 5, axisLine: {show: false},
    axisTick: {show: true, length: 4, customValues: yTickYears, lineStyle: {color: '#000', width: 1.5}},
    axisLabel: Object.assign({margin: 7, customValues: yTickYears, formatter: function (v) { return String(v); }}, labelStyle), splitLine: split});
  series.push({type: 'custom', xAxisIndex: i, yAxisIndex: i, coordinateSystem: 'cartesian2d', clip: true, silent: true, animation: false, progressive: 0,
    renderItem: renderCell, encode: {x: 0, y: 1}, data: buildCells(allRegions[i])});
  title.push({text: titles[i], left: g.cx, top: g.ty, textAlign: 'center', textStyle: {fontFamily: 'DejaVu Sans', fontWeight: 'normal', fontSize: 29, color: '#000'}});
});

// colour bar: the levels are evenly spaced along its own axis
const barIndex = barLevels.map(function (_, i) { return i; });
grid.push({left: 184, top: 818, width: 760, height: 17, show: false});
xAxis.push({type: 'value', gridIndex: 4, min: -1, max: 8.05, interval: 1, axisLine: {show: false}, splitLine: {show: false},
  axisTick: {show: true, inside: true, length: 17, customValues: barIndex, lineStyle: {color: '#000', width: 1.3}},
  axisLabel: Object.assign({margin: 3, customValues: barIndex, formatter: function (v) { return barLabels[v]; }}, labelStyle, {fontSize: 15}), z: 5});
yAxis.push({type: 'value', gridIndex: 4, min: 0, max: 1, show: false});
const barData = barColors.map(function (c, i) { return [i - 1, i, i]; });
series.push({type: 'custom', xAxisIndex: 4, yAxisIndex: 4, coordinateSystem: 'cartesian2d', silent: true, animation: false, clip: false,
  encode: {x: [0, 1]}, data: barData,
  renderItem: function (params, api) {
    const i = api.value(2);
    const fill = barColors[i];
    const bl = api.coord([i - 1, 0]), tr = api.coord([i, 1]);
    const bottomLine = {type: 'line', shape: {x1: bl[0], y1: bl[1], x2: tr[0], y2: bl[1]}, style: {stroke: '#222', lineWidth: 1.3}};
    if (i === 0) {
      const tip = api.coord([-0.98, 0.5]), a = api.coord([0, 1]), b = api.coord([0, 0]);
      return {type: 'group', children: [
        {type: 'polygon', shape: {points: [tip, a, b]}, style: {fill: fill}},
        {type: 'line', shape: {x1: tip[0], y1: tip[1], x2: b[0], y2: b[1]}, style: {stroke: '#222', lineWidth: 1.2}}]};
    }
    if (i === barColors.length - 1) {
      const tip = api.coord([8.03, 0.5]), a = api.coord([7, 1]), b = api.coord([7, 0]);
      return {type: 'group', children: [
        {type: 'polygon', shape: {points: [a, tip, b]}, style: {fill: fill}},
        {type: 'line', shape: {x1: tip[0], y1: tip[1], x2: b[0], y2: b[1]}, style: {stroke: '#222', lineWidth: 1.2}}]};
    }
    return {type: 'group', children: [
      {type: 'rect', shape: {x: bl[0], y: tr[1], width: tr[0] - bl[0], height: bl[1] - tr[1]}, style: {fill: fill}},
      bottomLine]};
  }});

const chart = echarts.init(document.getElementById('c'), null, {renderer: 'canvas'});
chart.setOption({animation: false, backgroundColor: '#fff', title: title, grid: grid, xAxis: xAxis, yAxis: yAxis, series: series});
</script></body></html>
